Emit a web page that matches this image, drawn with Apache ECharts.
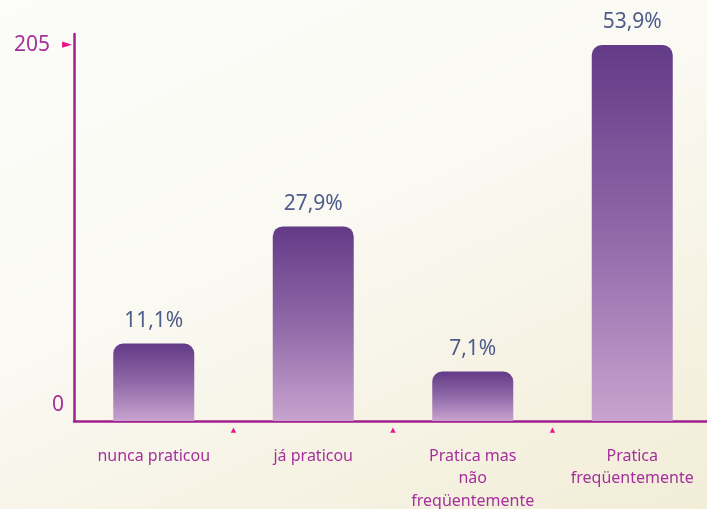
<!DOCTYPE html>
<html>
<head>
<meta charset="utf-8">
<script src="https://cdn.jsdelivr.net/npm/echarts@6/dist/echarts.min.js"></script>
<style>
  html, body { margin: 0; padding: 0; overflow: hidden; }
  #chart {
    width: 707px; height: 509px;
    background: linear-gradient(155deg, #fcfcfa 0%, #faf9f2 45%, #f2edd7 100%);
  }
</style>
</head>
<body>
<div id="chart"></div>
<script>
// Categories along the horizontal axis
const categories = ['nunca praticou', 'já praticou', 'Pratica mas\nnão\nfreqüentemente', 'Pratica\nfreqüentemente'];
// Share of respondents in each group (%)
const percentages = [11.1, 27.9, 7.1, 53.9];
// Count axis tick labels (respondents)
const countTicks = [0, 205];
// Upper extent of the count axis (line runs a little past the top tick)
const countAxisMax = 211;

// Percent scale aligned so the largest share sits on the top count tick
const topPct = Math.max.apply(null, percentages);
const pctAxisMax = countAxisMax * topPct / countTicks[countTicks.length - 1];

const axisColor = '#a21f8e';
const labelColor = '#a5309b';
const tickPink = '#e8168a';
const font = '"Noto Sans", "DejaVu Sans", sans-serif';

const chart = echarts.init(document.getElementById('chart'), null, { renderer: 'canvas' });

chart.setOption({
  backgroundColor: 'transparent',
  animation: false,
  grid: { left: 74, right: -5, top: 34, bottom: 88, outerBoundsMode: 'none', containLabel: false },
  xAxis: [
    {
      type: 'category',
      data: categories,
      axisLine: { show: true, lineStyle: { color: axisColor, width: 2.5 } },
      axisTick: { show: false },
      axisLabel: {
        color: labelColor, fontFamily: font, fontSize: 16,
        lineHeight: 22.5, margin: 24, verticalAlign: 'top', interval: 0
      },
      splitLine: { show: false }
    },
    {
      // separators between the groups: small pink marks just below the axis
      type: 'value',
      position: 'bottom',
      min: 0, max: 4, interval: 1,
      offset: 0,
      axisLine: { show: false },
      axisTick: { show: false },
      axisLabel: {
        show: true,
        customValues: [1, 2, 3],
        margin: 6,
        verticalAlign: 'top',
        formatter: function () { return '▲'; },
        color: tickPink,
        fontSize: 7,
        fontFamily: '"DejaVu Sans", sans-serif'
      },
      splitLine: { show: false }
    }
  ],
  yAxis: [
    {
      type: 'value',
      min: 0, max: countAxisMax,
      axisLine: { show: true, lineStyle: { color: axisColor, width: 2.5 } },
      axisTick: { show: false },
      splitLine: { show: false },
      axisLabel: {
        customValues: countTicks,
        margin: 2,
        formatter: function (v) {
          return v === countTicks[countTicks.length - 1]
            ? '{n|' + v + '}{t|►}'
            : '{z|' + v + '}';
        },
        rich: {
          n: { fontFamily: font, fontSize: 21, color: labelColor },
          t: { fontSize: 13, fontFamily: '"DejaVu Sans", sans-serif', color: tickPink, padding: [0, 0, 0, 12] },
          z: { fontFamily: font, fontSize: 21, color: labelColor, padding: [0, 8, 32, 0] }
        }
      }
    },
    {
      type: 'value',
      min: 0, max: pctAxisMax,
      show: false,
      splitLine: { show: false }
    }
  ],
  series: [
    {
      type: 'bar',
      xAxisIndex: 0,
      yAxisIndex: 1,
      data: percentages,
      barWidth: 81,
      itemStyle: {
        borderRadius: [10, 10, 0, 0],
        color: new echarts.graphic.LinearGradient(0, 0, 0, 1, [
          { offset: 0, color: '#633a87' },
          { offset: 0.5, color: '#8f69a8' },
          { offset: 1, color: '#c8a3cf' }
        ])
      },
      label: {
        show: true,
        position: 'top',
        distance: 12,
        fontFamily: font,
        fontSize: 21,
        color: '#4e5c8a',
        formatter: function (p) {
          return p.value.toFixed(1).replace('.', ',') + '%';
        }
      }
    }
  ]
});
</script>
</body>
</html>
